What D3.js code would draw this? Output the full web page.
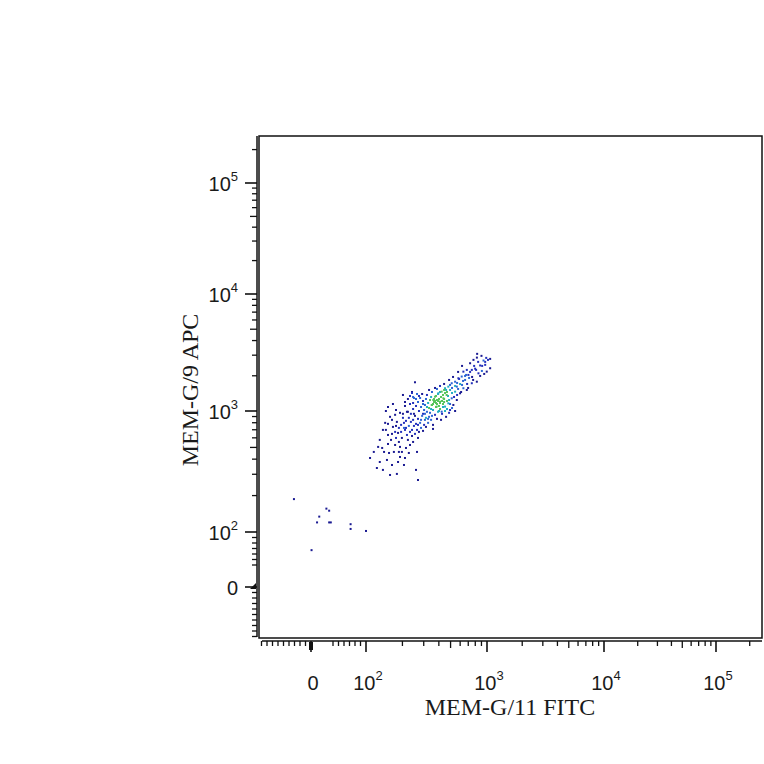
<!DOCTYPE html>
<html>
<head>
<meta charset="utf-8">
<script src="https://cdn.jsdelivr.net/npm/d3@7"></script>
<style>
  body { margin: 0; background: #fff; }
  svg { display: block; }
</style>
</head>
<body>
<div class="chart"></div>
<script>
var svgWidth = 764;
var svgHeight = 764;

var frame = { left: 259, top: 136, right: 762, bottom: 638 };

var xTitle = "MEM-G/11 FITC";
var yTitle = "MEM-G/9 APC";

// major ticks and their labels (null = plain "0")
var majorTicks = [0, 100, 1000, 10000, 100000];
var majorExp = [null, 2, 3, 4, 5];
var minorTicks = [-90, -80, -70, -60, -50, -40, -30, -20, -10, 40, 50, 60, 70, 80, 90,
  200, 300, 400, 500, 600, 700, 800, 900,
  2000, 3000, 4000, 5000, 6000, 7000, 8000, 9000,
  20000, 30000, 40000, 50000, 60000, 70000, 80000, 90000, 200000];

// events near the origin [FITC, APC]
var lowEvents = [
  [-31, 187], [28, 156], [33, 150], [15, 134], [11, 120], [33, 120], [36, 120],
  [72, 116], [72, 106], [100, 102], [1, 67]
];

// main population [FITC, APC]
var clusterEvents = [
  [900, 2960], [825, 2860], [773, 2735], [936, 2700], [966, 2480], [878, 2450], [798, 2300],
  [749, 2245], [907, 2200], [995, 2170], [681, 2245], [638, 2170], [702, 2034], [618, 1970],
  [580, 1905], [659, 1843], [824, 1780], [749, 1727], [545, 1780], [511, 1727], [599, 1700],
  [479, 1615], [563, 1615], [638, 1565], [450, 1565], [495, 1513], [422, 1463], [545, 1463],
  [396, 1417], [464, 1371], [599, 1417], [372, 1325], [436, 1284], [511, 1284], [360, 1242],
  [409, 1201], [479, 1164], [349, 1126], [384, 1090], [450, 1090], [527, 1126], [422, 987],
  [495, 1020], [563, 1242], [681, 1513], [725, 2560], [850, 2100], [1064, 2320],
  [1020, 2735], [845, 2629], [783, 2429], [948, 2074], [711, 1917], [622, 2429], [577, 2158],
  [524, 1955], [486, 1843], [442, 1703], [409, 1637], [386, 1543], [467, 1454], [514, 1574],
  [566, 1371], [622, 1670], [685, 1703], [753, 1955], [878, 1994], [985, 2845], [829, 3079],
  [280, 1292], [296, 1218], [313, 1267], [326, 1171], [345, 1318], [365, 1194], [386, 1148],
  [401, 1267], [307, 1126], [332, 1061], [358, 1020], [379, 1082], [409, 1040], [433, 1148],
  [319, 1371], [291, 1398], [269, 1194], [285, 1082], [302, 1020], [338, 966], [372, 930],
  [394, 985], [425, 948], [450, 1000], [467, 1218], [495, 1148], [274, 1000], [259, 1104],
  [245, 1040], [235, 948], [254, 912], [269, 861], [291, 912], [313, 878], [345, 845],
  [326, 798], [302, 768], [280, 798], [259, 783], [245, 845], [226, 878], [218, 985],
  [231, 1148], [249, 1292], [264, 1398], [240, 1454], [222, 1267], [210, 1104], [202, 948],
  [214, 829], [226, 753], [240, 698], [264, 698], [285, 725], [313, 739], [358, 768],
  [386, 861], [417, 845], [459, 895], [486, 966], [514, 1061], [545, 1000], [433, 1371],
  [459, 1513], [351, 1454], [372, 1574], [332, 1513], [409, 1454], [379, 1344], [338, 1242],
  [319, 985], [351, 1126], [394, 1218], [442, 1267], [476, 1344], [365, 1267], [386, 1242],
  [409, 1171], [425, 1218], [379, 1171], [401, 1104], [358, 1148], [417, 1318], [442, 1194],
  [372, 1218],
  [108, 409], [123, 338], [138, 326], [158, 296], [180, 302], [184, 379], [191, 417],
  [187, 459], [191, 505], [187, 555], [198, 599], [152, 534], [141, 459], [155, 450],
  [152, 634], [146, 698], [167, 739], [174, 672], [164, 647], [184, 659], [206, 725],
  [218, 634], [222, 577], [245, 555], [269, 599], [264, 459], [269, 269], [210, 409],
  [161, 577], [174, 524], [170, 459], [149, 394], [164, 358], [130, 379], [136, 495],
  [177, 599], [195, 768], [180, 813], [164, 845], [152, 783], [202, 878], [191, 966],
  [174, 930], [158, 895], [144, 798], [138, 698], [130, 577], [126, 505], [116, 459],
  [231, 524], [240, 622], [254, 647], [214, 495], [198, 459], [226, 450], [206, 358],
  [146, 1000], [152, 1082], [177, 1020], [167, 1148], [259, 326], [210, 1194], [202, 1371],
  [240, 1426], [245, 1318], [254, 1760],
  [249, 753], [274, 672], [296, 685], [231, 672], [214, 725], [206, 798], [187, 725],
  [177, 753], [195, 672], [222, 985], [307, 845], [332, 895], [296, 948], [358, 711],
  [725, 2158], [672, 2034], [588, 1879], [545, 1637], [495, 1670], [450, 1426], [577, 1543],
  [634, 1807], [813, 2245], [912, 2429], [768, 1843], [698, 1574], [611, 1454], [534, 1318],
  [486, 1242], [433, 1082], [467, 1040], [401, 1000], [351, 912], [326, 861], [269, 768],
  [249, 948], [210, 698], [235, 813], [285, 845], [307, 948], [319, 1082], [296, 1148],
  [274, 1344], [259, 1267], [231, 1344], [245, 1171], [345, 1040], [442, 1513], [394, 1398],
  [514, 1426], [566, 1737], [659, 1994], [966, 2629], [1064, 2789]
];

// biexponential-like display transform: linear below 100, log above
function toDisplay(v) {
  return v >= 100 ? Math.log10(v) - 1 : v / 100;
}

var xScale = d3.scaleLinear()
  .domain([0, 1, 2, 3, 4])
  .range([311, 366, 487, 604, 716]);

var yScale = d3.scaleLinear()
  .domain([0, 1, 2, 3, 4])
  .range([587, 532, 411, 294, 183]);

function xPos(v) { return xScale(toDisplay(v)); }
function yPos(v) { return yScale(toDisplay(v)); }

var svg = d3.select(".chart")
  .append("svg")
  .attr("width", svgWidth)
  .attr("height", svgHeight);

svg.append("rect")
  .attr("width", svgWidth)
  .attr("height", svgHeight)
  .attr("fill", "#fff");

// events
var allEvents = lowEvents.concat(clusterEvents).map(function(d) {
  return { x: xPos(d[0]), y: yPos(d[1]) };
});

// local density for pseudocolour
allEvents.forEach(function(p) {
  p.n = allEvents.filter(function(q) {
    var dx = q.x - p.x, dy = q.y - p.y;
    return dx * dx + dy * dy < 36;
  }).length;
});

var densityColor = d3.scaleThreshold()
  .domain([6, 8, 10, 12])
  .range(["#1a1a92", "#2330bc", "#2b66d4", "#22aec2", "#56c45a"]);

svg.append("g")
  .selectAll("rect")
  .data(allEvents.sort(function(a, b) { return a.n - b.n; }))
  .enter()
  .append("rect")
  .attr("x", d => d.x - 1)
  .attr("y", d => d.y - 1)
  .attr("width", 2)
  .attr("height", 2)
  .attr("fill", d => densityColor(d.n));

// frame
svg.append("rect")
  .attr("x", frame.left)
  .attr("y", frame.top)
  .attr("width", frame.right - frame.left)
  .attr("height", frame.bottom - frame.top)
  .attr("fill", "none")
  .attr("stroke", "#111")
  .attr("stroke-width", 1.5);

// x axis
var xAxisG = svg.append("g")
  .attr("transform", "translate(0, 641)");

xAxisG.append("line")
  .attr("x1", 262).attr("x2", frame.right)
  .attr("stroke", "#111").attr("stroke-width", 1.5);

xAxisG.selectAll(".minor")
  .data(minorTicks)
  .enter().append("line")
  .attr("x1", d => xPos(d)).attr("x2", d => xPos(d))
  .attr("y1", 0).attr("y2", d => (d === 500 || d === 5000 || d === 50000) ? 7 : 5)
  .attr("stroke", "#111").attr("stroke-width", 1.3);

xAxisG.selectAll(".major")
  .data(majorTicks)
  .enter().append("line")
  .attr("x1", d => xPos(d)).attr("x2", d => xPos(d))
  .attr("y1", 0).attr("y2", 11)
  .attr("stroke", "#111").attr("stroke-width", 1.6);

xAxisG.append("rect")
  .attr("x", xPos(0) - 2).attr("y", 1)
  .attr("width", 4).attr("height", 8)
  .attr("fill", "#111");

var xLabels = svg.append("g")
  .selectAll("text")
  .data(majorTicks)
  .enter().append("text")
  .attr("x", d => xPos(d) + 2)
  .attr("y", 690)
  .attr("text-anchor", "middle")
  .attr("font-family", "'Liberation Sans Narrow', 'Liberation Sans', sans-serif")
  .attr("font-size", 20)
  .attr("fill", "#1a1a1a");

xLabels.each(function(d, i) {
  var t = d3.select(this);
  if (majorExp[i] === null) { t.text("0"); return; }
  t.append("tspan").text("10");
  t.append("tspan").attr("dy", -10).attr("font-size", 13).text(majorExp[i]);
});

// y axis
var yAxisG = svg.append("g")
  .attr("transform", "translate(257, 0)");

yAxisG.append("line")
  .attr("y1", frame.top).attr("y2", 637)
  .attr("stroke", "#111").attr("stroke-width", 1.5);

yAxisG.selectAll(".minor")
  .data(minorTicks)
  .enter().append("line")
  .attr("y1", d => yPos(d)).attr("y2", d => yPos(d))
  .attr("x1", 0).attr("x2", d => (d === 500 || d === 5000 || d === 50000) ? -7 : -5)
  .attr("stroke", "#111").attr("stroke-width", 1.3);

yAxisG.selectAll(".major")
  .data(majorTicks)
  .enter().append("line")
  .attr("y1", d => yPos(d)).attr("y2", d => yPos(d))
  .attr("x1", 0).attr("x2", -12)
  .attr("stroke", "#111").attr("stroke-width", 1.6);

yAxisG.append("path")
  .attr("d", "M-1," + (yPos(0) - 4) + "L-7," + (yPos(0) + 2) + "L-1," + (yPos(0) + 2) + "Z")
  .attr("fill", "#111");

var yLabels = svg.append("g")
  .selectAll("text")
  .data(majorTicks)
  .enter().append("text")
  .attr("x", 238)
  .attr("y", d => yPos(d) + 8)
  .attr("text-anchor", "end")
  .attr("font-family", "'Liberation Sans Narrow', 'Liberation Sans', sans-serif")
  .attr("font-size", 20)
  .attr("fill", "#1a1a1a");

yLabels.each(function(d, i) {
  var t = d3.select(this);
  if (majorExp[i] === null) { t.text("0"); return; }
  t.append("tspan").text("10");
  t.append("tspan").attr("dy", -10).attr("font-size", 13).text(majorExp[i]);
});

// axis titles
svg.append("text")
  .attr("x", 510)
  .attr("y", 715)
  .attr("text-anchor", "middle")
  .attr("font-family", "'Liberation Serif', 'Times New Roman', serif")
  .attr("font-size", 24)
  .attr("fill", "#1a1a1a")
  .text(xTitle);

svg.append("text")
  .attr("transform", "translate(198, 390) rotate(-90)")
  .attr("text-anchor", "middle")
  .attr("font-family", "'Liberation Serif', 'Times New Roman', serif")
  .attr("font-size", 24)
  .attr("fill", "#1a1a1a")
  .text(yTitle);
</script>
</body>
</html>
